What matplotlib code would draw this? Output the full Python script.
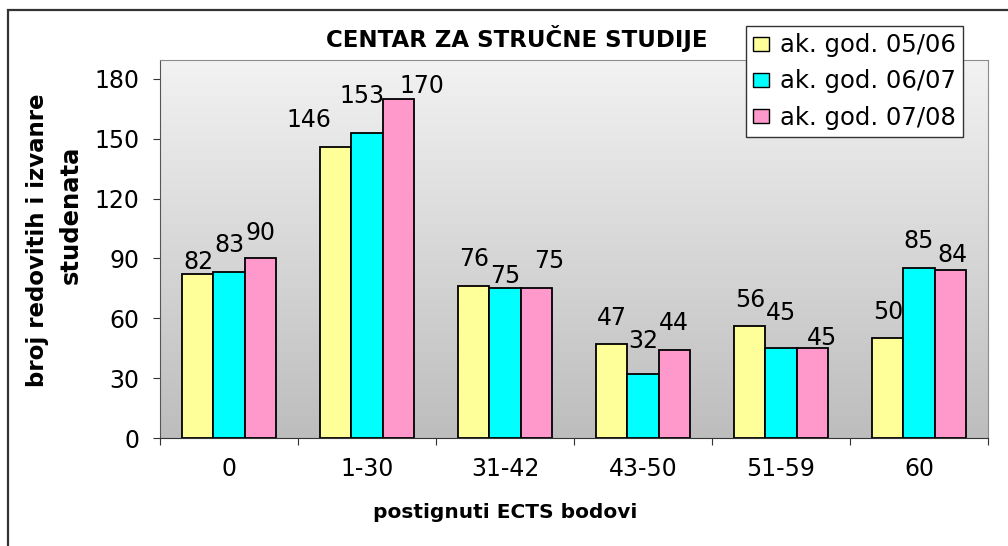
import numpy as np
import matplotlib
matplotlib.use("Agg")
import matplotlib.pyplot as plt
from matplotlib.patches import Rectangle
from matplotlib.colors import LinearSegmentedColormap

plt.rcParams['font.family'] = ['DejaVu Sans']

categories = ['0', '1-30', '31-42', '43-50', '51-59', '60']
series_names = ['ak. god. 05/06', 'ak. god. 06/07', 'ak. god. 07/08']
vals_0506 = [82, 146, 76, 47, 56, 50]
vals_0607 = [83, 153, 75, 32, 45, 85]
vals_0708 = [90, 170, 75, 44, 45, 84]
colors = ['#FFFF99', '#00FFFF', '#FF99CC']

# label placement nudges in pixels (Excel staggers overlapping labels)
label_gap = [[5, 20, 20, 19, 19, 19],
             [20, 30, 5, 26, 28, 20],
             [18, 6, 20, 20, 3, 8]]
label_dx = [[0, -27, 0, 0, 0, 0],
            [0, -5, 0, 0, 0, 0],
            [0, 24, 13, 0, 10, 2]]

W, H = 1008, 546
fig = plt.figure(figsize=(W / 100, H / 100), dpi=100)
ax = fig.add_axes([160 / W, 1 - 438 / H, (988 - 160) / W, (438 - 60) / H])

# outer chart border (right/bottom run off the picture)
fig.patches.append(Rectangle((8 / W, -0.1), 1.2, 1 - 10 / H + 0.1,
                             transform=fig.transFigure, fill=False,
                             edgecolor='#333333', linewidth=1.6))

ymax = 189.5
grad = np.linspace(0, 1, 256).reshape(-1, 1)
ax.imshow(grad, cmap=LinearSegmentedColormap.from_list('bg', ['#F2F2F2', '#BDBDBD']),
          aspect='auto', origin='upper',
          extent=[-0.5, len(categories) - 0.5, 0, ymax], zorder=0)

x = np.arange(len(categories))
bw = 0.225
all_vals = [vals_0506, vals_0607, vals_0708]
for i, (vals, c, name) in enumerate(zip(all_vals, colors, series_names)):
    bars = ax.bar(x + (i - 1) * bw, vals, bw, color=c, edgecolor='black',
                  linewidth=1.3, label=name, zorder=2)
    for j, (b, v) in enumerate(zip(bars, vals)):
        ax.annotate(str(v), (b.get_x() + b.get_width() / 2, v),
                    xytext=(label_dx[i][j] * 0.72, label_gap[i][j] * 0.72),
                    textcoords='offset points', ha='center', va='baseline',
                    fontsize=17, zorder=3)

ax.set_xlim(-0.5, len(categories) - 0.5)
ax.set_ylim(0, ymax)
ax.set_yticks([0, 30, 60, 90, 120, 150, 180])
ax.set_xticks(np.arange(len(categories) + 1) - 0.5)
ax.set_xticklabels([])
ax.set_xticks(x, minor=True)
ax.set_xticklabels(categories, minor=True)
ax.tick_params(axis='x', which='minor', length=0, labelsize=17, pad=14)
ax.tick_params(axis='x', which='major', length=5, direction='out', color='#333333')
ax.tick_params(axis='y', labelsize=17, length=5, pad=10, color='#333333')
for s in ['top', 'right']:
    ax.spines[s].set_color('#8C8C8C')
ax.spines['left'].set_color('#555555')
ax.spines['bottom'].set_color('#333333')

fig.text(505 / W, 1 - 513 / H, 'postignuti ECTS bodovi', fontsize=14.5,
         fontweight='bold', ha='center', va='center')
fig.text(38 / W, 1 - 240 / H, 'broj redovitih i izvanre', rotation=90, fontsize=16.5,
         fontweight='bold', ha='center', va='center')
fig.text(71 / W, 1 - 215 / H, 'studenata', rotation=90, fontsize=17.5,
         fontweight='bold', ha='center', va='center')
fig.text(517 / W, 1 - 38 / H, 'CENTAR ZA STRUČNE STUDIJE', fontsize=16.5,
         fontweight='bold', ha='center', va='center')

leg = ax.legend(loc='upper left', bbox_to_anchor=(746 / W, 1 - 26 / H),
                bbox_transform=fig.transFigure, fontsize=17.5, frameon=True,
                fancybox=False, edgecolor='#333333', framealpha=1,
                handlelength=0.65, handleheight=0.5, handletextpad=0.45,
                borderpad=0.3, labelspacing=0.5, borderaxespad=0)
leg.get_frame().set_linewidth(1.0)
for h in leg.legend_handles:
    h.set_linewidth(1.0)

fig.savefig('out.png', dpi=100)
